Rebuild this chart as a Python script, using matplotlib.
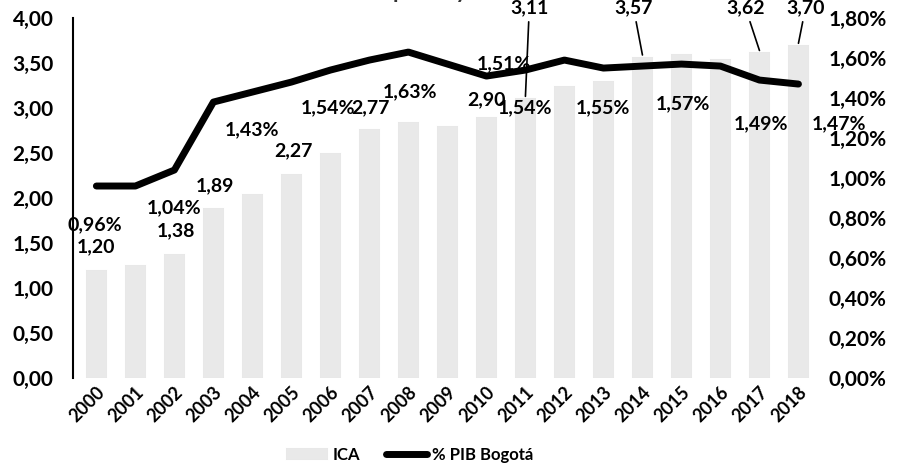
import numpy as np
import matplotlib.pyplot as plt

plt.rcParams['font.family'] = ['Lato', 'DejaVu Sans']
plt.rcParams['font.weight'] = 'bold'
plt.rcParams['hatch.linewidth'] = 1.5

# data
years = [str(y) for y in range(2000, 2019)]
ica = [1.20, 1.25, 1.38, 1.89, 2.05, 2.27, 2.50, 2.77, 2.85, 2.80,
       2.90, 3.11, 3.25, 3.30, 3.57, 3.60, 3.55, 3.62, 3.70]
pib = [0.96, 0.96, 1.04, 1.38, 1.43, 1.48, 1.54, 1.59, 1.63, 1.57,
       1.51, 1.54, 1.59, 1.55, 1.56, 1.57, 1.56, 1.49, 1.47]

# which points carry labels, and where they sit (x offset in bars, y in axis units)
ica_labels = {0: (0, 0.26), 2: (0.05, 0.26), 3: (0.05, 0.25), 5: (0.05, 0.25),
              7: (0.02, 0.23), 10: (0, 0.19), 11: (0.1, None), 14: (-0.23, None),
              17: (-0.36, None), 18: (0.18, None)}
pib_labels = {0: (-0.05, 0.765), 2: (0, 0.85), 4: (0, 1.24), 6: (-0.05, 1.35),
              8: (0.05, 1.43), 10: (0.45, 1.57), 11: (0, 1.35), 13: (0, 1.35),
              15: (0.05, 1.37), 17: (0.05, 1.27), 18: (1.05, 1.27)}

fig = plt.figure(figsize=(9.01, 4.76), dpi=100)
ax = fig.add_axes([0.081, 0.206, 0.829, 0.756])
ax2 = ax.twinx()

x = np.arange(len(years))
ax.bar(x, ica, width=0.52, color='#e9e9e9', edgecolor='#8c8c8c',
       hatch='::', linewidth=0.01, label='ICA')
ax2.plot(x, np.array(pib) / 100, color='black', linewidth=5,
         solid_capstyle='round', solid_joinstyle='round', label='% PIB Bogotá')

ax.set_ylim(0, 4)
ax.set_yticks(np.arange(0, 4.01, 0.5))
ax.set_yticklabels([f'{v:.2f}'.replace('.', ',') for v in np.arange(0, 4.01, 0.5)])
ax2.set_ylim(0, 0.018)
ax2.set_yticks(np.arange(0, 0.0181, 0.002))
ax2.set_yticklabels([f'{v*100:.2f}%'.replace('.', ',') for v in np.arange(0, 0.0181, 0.002)])
ax.set_xlim(-0.6, 18.55)
ax.set_xticks(x)
ax.set_xticklabels(years, rotation=45, ha='right', rotation_mode='anchor')

for a in (ax, ax2):
    for s in ('top', 'right', 'bottom'):
        a.spines[s].set_visible(False)
    a.tick_params(length=0, labelsize=15)
ax2.spines['left'].set_visible(False)
ax.spines['left'].set_linewidth(1.5)
ax.tick_params(axis='y', pad=14)
ax2.tick_params(axis='y', pad=6)
ax.tick_params(axis='x', pad=4, labelsize=13)

for i, (dx, ty) in ica_labels.items():
    txt = f'{ica[i]:.2f}'.replace('.', ',')
    if ty is None:
        ax.annotate(txt, xy=(i, ica[i] + 0.02), xytext=(i + dx, 4.02),
                    ha='center', va='bottom', fontsize=14, annotation_clip=False,
                    arrowprops=dict(arrowstyle='-', color='black', lw=1.2, shrinkA=2, shrinkB=0))
    else:
        ax.text(i + dx, ica[i] + ty, txt, ha='center', va='center', fontsize=14)

for i, (dx, ty) in pib_labels.items():
    ax2.text(i + dx, ty / 100, f'{pib[i]:.2f}%'.replace('.', ','),
             ha='center', va='center', fontsize=14)

fig.text(0.45, 1.018, 'Billones de pesos y % PIB', ha='center', va='center',
         fontsize=16, color='#333333')

h1, l1 = ax.get_legend_handles_labels()
h2, l2 = ax2.get_legend_handles_labels()
fig.legend(h1 + h2, l1 + l2, loc='center', bbox_to_anchor=(0.455, 0.045),
           ncol=2, frameon=False, fontsize=12, handlelength=2.5,
           columnspacing=1.5, handletextpad=0.3)

fig.savefig('out.png', dpi=100)
